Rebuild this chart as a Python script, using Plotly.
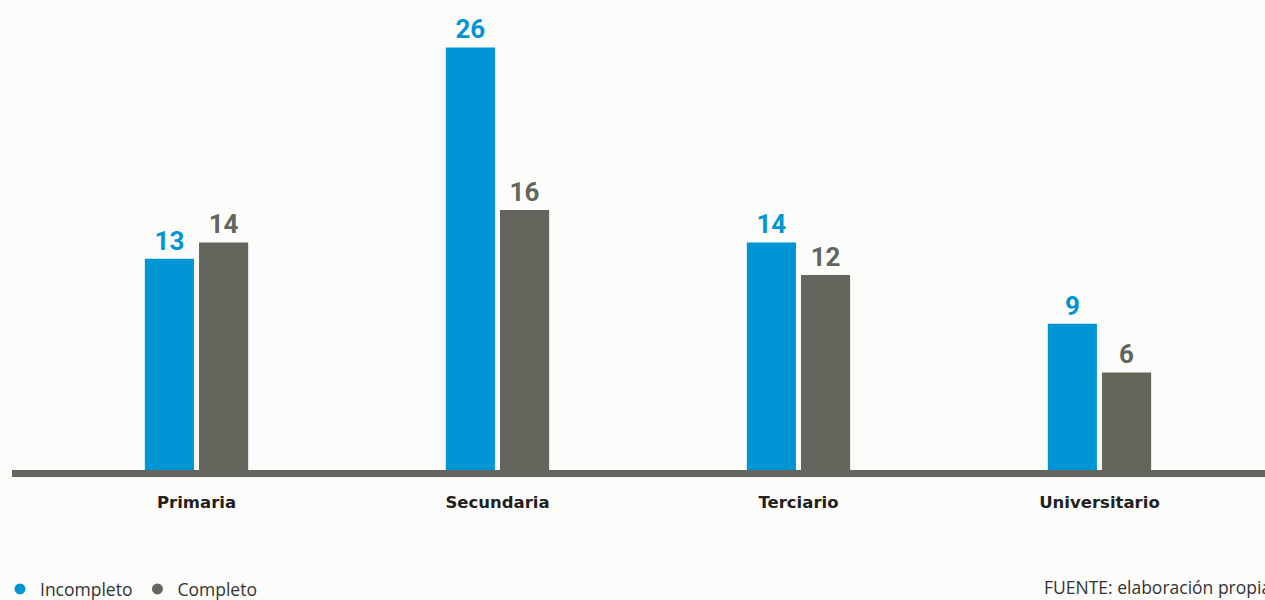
import plotly.graph_objects as go

categories = ["Primaria", "Secundaria", "Terciario", "Universitario"]
incompleto = [13, 26, 14, 9]
completo = [14, 16, 12, 6]
series_names = ["Incompleto", "Completo"]
footer = "FUENTE: elaboración propia"

BLUE = "#0096d6"
GREY = "#62665c"
BG = "#fcfcfa"

fig = go.Figure()
for name, vals, col in [(series_names[0], incompleto, BLUE), (series_names[1], completo, GREY)]:
    fig.add_trace(go.Bar(
        x=categories, y=vals, name=name, marker=dict(color=col, line=dict(width=0)),
        text=[f"<b>{v}</b>" for v in vals], textposition="outside",
        textfont=dict(family="Roboto", size=26, color=col),
        showlegend=False, cliponaxis=False,
    ))
    fig.add_trace(go.Scatter(
        x=[None], y=[None], mode="markers", name=name,
        marker=dict(symbol="circle", size=11, color=col),
    ))

fig.update_layout(
    width=1265, height=600,
    margin=dict(l=12, r=0, t=0, b=130, autoexpand=False),
    paper_bgcolor=BG, plot_bgcolor=BG,
    barmode="group", bargap=0.64, bargroupgap=0.093,
    showlegend=True,
    legend=dict(orientation="h", xref="container", x=-1 / 1265, xanchor="left",
                yref="container", y=11 / 600, yanchor="middle",
                font=dict(family="Open Sans", size=17.5, color="#333333"),
                itemwidth=30, bgcolor="rgba(0,0,0,0)"),
    xaxis=dict(type="category", range=[-0.613, 3.550], showgrid=False, zeroline=False,
               showline=True, linewidth=7, linecolor=GREY, ticks="",
               tickfont=dict(family="DejaVu Sans", size=16.5, color="#231f20"),
               ticklabelstandoff=11,
               ticktext=[f"<b>{c}</b>" for c in categories], tickvals=categories),
    yaxis=dict(range=[0, 28.92], visible=False, showgrid=False, zeroline=False),
    annotations=[dict(text=footer, xref="paper", yref="paper", x=(1042 - 12) / 1253, y=-0.248,
                      xanchor="left", yanchor="middle", showarrow=False,
                      font=dict(family="Open Sans", size=17.5, color="#333333"))],
)

fig.write_html("out.html")
